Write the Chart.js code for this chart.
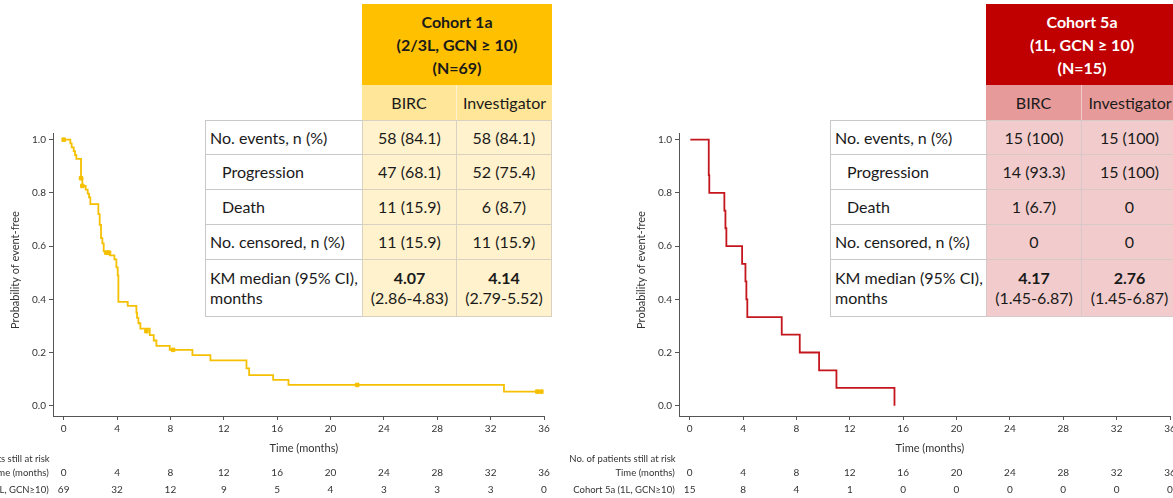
<!DOCTYPE html>
<html>
<head>
<meta charset="utf-8">
<script src="https://cdn.jsdelivr.net/npm/chart.js@4.4.1/dist/chart.umd.min.js"></script>
<style>
body{margin:0;width:1173px;height:498px;overflow:hidden;background:#fff;position:relative;font-family:Lato,"Open Sans",sans-serif;}
canvas{position:absolute;top:0;}
.cell{position:absolute;box-sizing:border-box;display:flex;align-items:center;justify-content:center;text-align:center;font-size:16px;line-height:20px;color:#1a1a1a;white-space:nowrap;}
.lab{justify-content:flex-start;text-align:left;padding-left:4px;background:#fff;border-bottom:1px solid #c8c8c8;}
.ind{padding-left:16px;}
.hd{font-weight:bold;line-height:23px;}
</style>
</head>
<body>
<canvas id="graph1" width="570" height="498" style="left:0"></canvas>
<canvas id="graph2" width="630" height="498" style="left:570px"></canvas>
<div id="tables"></div>
<script>
// axis ticks
const months = [0, 4, 8, 12, 16, 20, 24, 28, 32, 36];
const probTicks = [0, 0.2, 0.4, 0.6, 0.8, 1.0];

// Cohort 1a
const c1aTime = [0, 0.5, 0.6, 0.75, 0.85, 0.95, 1.3, 1.4, 1.65, 1.8, 1.9, 2.0, 2.6, 2.7, 2.8, 2.9, 3.0, 3.45, 3.8, 3.95, 4.05, 4.1, 4.8, 5.45, 5.5, 5.6, 5.75, 6.45, 6.75, 6.95, 7.95, 9.65, 11.0, 13.7, 13.9, 15.7, 16.85, 33.0, 35.8];
const c1aProb = [1.0, 0.986, 0.971, 0.957, 0.942, 0.928, 0.855, 0.826, 0.812, 0.797, 0.783, 0.758, 0.72, 0.68, 0.63, 0.61, 0.58, 0.565, 0.55, 0.52, 0.49, 0.39, 0.375, 0.35, 0.33, 0.31, 0.29, 0.265, 0.245, 0.225, 0.21, 0.19, 0.17, 0.14, 0.115, 0.097, 0.078, 0.053, 0.053];
const c1aCensTime = [0, 1.3, 1.4, 3.2, 3.4, 6.2, 8.2, 22.0, 35.5, 35.8];
const c1aCensProb = [1.0, 0.855, 0.826, 0.575, 0.575, 0.28, 0.21, 0.078, 0.053, 0.053];
const c1aAtRisk = [69, 32, 12, 9, 5, 4, 3, 3, 3, 0];

// Cohort 5a
const c5aTime = [0.05, 1.43, 1.47, 2.6, 2.68, 2.75, 3.93, 4.18, 4.25, 4.32, 6.9, 8.25, 9.7, 11.0, 15.35];
const c5aProb = [1.0, 0.867, 0.8, 0.733, 0.667, 0.6, 0.533, 0.467, 0.4, 0.333, 0.267, 0.2, 0.133, 0.067, 0.0];
const c5aAtRisk = [15, 8, 4, 1, 0, 0, 0, 0, 0, 0];

// summary tables
const rowLabels = ["No. events, n (%)", "Progression", "Death", "No. censored, n (%)", "KM median (95% CI),<br>months"];
const colHeads = ["BIRC", "Investigator"];
const c1aHead = ["Cohort 1a", "(2/3L, GCN \u2265 10)", "(N=69)"];
const c1aBirc = ["58 (84.1)", "47 (68.1)", "11 (15.9)", "11 (15.9)"];
const c1aInv = ["58 (84.1)", "52 (75.4)", "6 (8.7)", "11 (15.9)"];
const c1aMedian = ["4.07", "4.14"];
const c1aCI = ["(2.86-4.83)", "(2.79-5.52)"];
const c5aHead = ["Cohort 5a", "(1L, GCN \u2265 10)", "(N=15)"];
const c5aBirc = ["15 (100)", "14 (93.3)", "1 (6.7)", "0"];
const c5aInv = ["15 (100)", "15 (100)", "0", "0"];
const c5aMedian = ["4.17", "2.76"];
const c5aCI = ["(1.45-6.87)", "(1.45-6.87)"];

const FONT = 'Lato, "Open Sans", sans-serif';

function riskPlugin(atRisk, cohortName) {
    return {
        id: 'risk',
        afterDraw(chart) {
            const ctx = chart.ctx;
            const xs = chart.scales.x;
            const x0 = xs.getPixelForValue(0);
            ctx.save();
            ctx.fillStyle = '#333';
            ctx.textBaseline = 'middle';
            ctx.font = '11px ' + FONT;
            ctx.textAlign = 'center';
            ctx.fillText('Time (months)', xs.getPixelForValue(18), 448);
            ctx.font = '9.5px ' + FONT;
            ctx.textAlign = 'right';
            ctx.fillText('No. of patients still at risk', x0 - 14, 459);
            ctx.fillText('Time (months)', x0 - 15, 473);
            ctx.fillText(cohortName, x0 - 15, 490);
            ctx.font = '10px ' + FONT;
            ctx.textAlign = 'center';
            for (let i = 0; i < months.length; i++) {
                ctx.fillText(String(months[i]), xs.getPixelForValue(months[i]), 473);
                ctx.fillText(String(atRisk[i]), xs.getPixelForValue(months[i]), 490);
            }
            // y title
            ctx.font = '11px ' + FONT;
            ctx.translate(chart.chartArea.left - 38, 270);
            ctx.rotate(-Math.PI / 2);
            ctx.fillText('Probability of event-free', 0, 0);
            ctx.restore();
        }
    };
}

function mkKm(id, times, probs, censT, censP, color, atRisk, cohortName, yWidth, padRight) {
    const ctx = document.getElementById(id);
    const datasets = [{
        data: times.map((t, i) => ({x: t, y: probs[i]})),
        borderColor: color,
        borderWidth: 1.8,
        stepped: true,
        pointRadius: 0,
        fill: false
    }];
    if (censT.length) {
        datasets.push({
            data: censT.map((t, i) => ({x: t, y: censP[i]})),
            showLine: false,
            pointStyle: 'rect',
            pointRadius: 2.5,
            backgroundColor: color,
            borderColor: color
        });
    }
    const tickFont = {size: 10, family: FONT};
    new Chart(ctx, {
        type: 'line',
        data: {datasets: datasets},
        options: {
            responsive: false,
            animation: false,
            layout: {padding: {top: 133, left: 0, right: padRight, bottom: 0}},
            plugins: {legend: {display: false}, tooltip: {enabled: false}},
            scales: {
                x: {
                    type: 'linear', min: -0.8, max: 36,
                    afterBuildTicks: s => { s.ticks = months.map(v => ({value: v})); },
                    afterFit: s => { s.height = 82; },
                    grid: {drawOnChartArea: false, tickLength: 4, color: '#555'},
                    border: {color: '#555', width: 1},
                    ticks: {font: tickFont, color: '#333', padding: 3, maxRotation: 0, callback: v => String(v)}
                },
                y: {
                    type: 'linear', min: -0.0387, max: 1.025,
                    afterBuildTicks: s => { s.ticks = probTicks.map(v => ({value: v})); },
                    afterFit: s => { s.width = yWidth; },
                    grid: {drawOnChartArea: false, tickLength: 4, color: '#555'},
                    border: {color: '#555', width: 1},
                    ticks: {font: tickFont, color: '#333', padding: 3, callback: v => v.toFixed(1)}
                }
            }
        },
        plugins: [riskPlugin(atRisk, cohortName)]
    });
}

mkKm('graph1', c1aTime, c1aProb, c1aCensTime, c1aCensProb, '#F5C000', c1aAtRisk, 'Cohort 1a (2/3L, GCN\u226510)', 53, 26);
mkKm('graph2', c5aTime, c5aProb, [], [], '#C4161C', c5aAtRisk, 'Cohort 5a (1L, GCN\u226510)', 109, 30);

function cell(html, x, y, w, h, cls, style) {
    const d = document.createElement('div');
    d.className = 'cell ' + (cls || '');
    d.innerHTML = html;
    d.style.left = x + 'px';
    d.style.top = y + 'px';
    d.style.width = w + 'px';
    d.style.height = h + 'px';
    Object.assign(d.style, style || {});
    document.getElementById('tables').appendChild(d);
}

function mkTable(x, labW, colW, head, birc, inv, med, ci, c, headText) {
    const rowH = [35, 35, 35, 35, 57];
    const c1 = x + labW, c2 = c1 + colW;
    cell(head.join('<br>'), c1, 4, colW * 2, 81, 'hd', {background: c.head, color: headText});
    cell(colHeads[0], c1, 85, colW, 35, '', {background: c.sub, borderRight: '1px solid ' + c.subLine});
    cell(colHeads[1], c2, 85, colW, 35, '', {background: c.sub});
    let y = 120;
    for (let r = 0; r < rowLabels.length; r++) {
        const h = rowH[r];
        const isInd = (r === 1 || r === 2);
        cell(rowLabels[r], x, y, labW, h, 'lab' + (isInd ? ' ind' : ''),
            {borderLeft: '1px solid #c8c8c8', borderTop: r === 0 ? '1px solid #c8c8c8' : 'none'});
        const bv = r < 4 ? birc[r] : '<div><b>' + med[0] + '</b><br>' + ci[0] + '</div>';
        const iv = r < 4 ? inv[r] : '<div><b>' + med[1] + '</b><br>' + ci[1] + '</div>';
        const st = {background: c.body, borderBottom: '1px solid ' + c.line, borderTop: r === 0 ? '1px solid ' + c.line : 'none'};
        cell(bv, c1, y, colW, h, '', Object.assign({borderLeft: '1px solid ' + c.line, borderRight: '1px solid ' + c.line}, st));
        cell(iv, c2, y, colW, h, '', Object.assign({borderRight: '1px solid ' + c.line}, st));
        y += h;
    }
}

mkTable(205, 157, 95, c1aHead, c1aBirc, c1aInv, c1aMedian, c1aCI,
    {head: '#FFC000', sub: '#FFE699', subLine: '#FFF2CC', body: '#FFF2CC', line: '#d9d2c0'}, '#1a1a1a');
mkTable(830, 156, 96, c5aHead, c5aBirc, c5aInv, c5aMedian, c5aCI,
    {head: '#C00000', sub: '#E69A9A', subLine: '#F2CCCC', body: '#F2CCCC', line: '#d9c8c8'}, '#ffffff');
</script>
</body>
</html>
